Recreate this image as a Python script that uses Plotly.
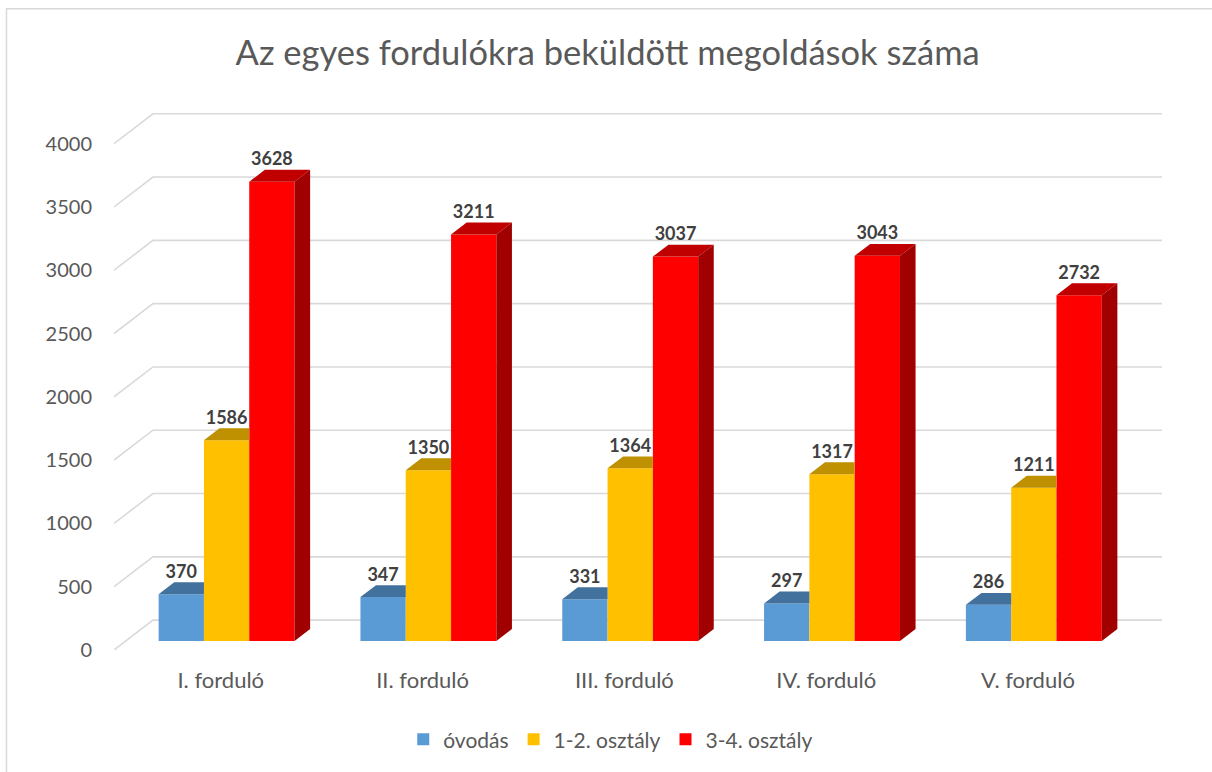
import plotly.graph_objects as go

# ---- data ----
categories = ["I. forduló", "II. forduló", "III. forduló", "IV. forduló", "V. forduló"]
series_names = ["óvodás", "1-2. osztály", "3-4. osztály"]
ovodas = [370, 347, 331, 297, 286]
osztaly_12 = [1586, 1350, 1364, 1317, 1211]
osztaly_34 = [3628, 3211, 3037, 3043, 2732]
y_ticks = [0, 500, 1000, 1500, 2000, 2500, 3000, 3500, 4000]

series_values = [ovodas, osztaly_12, osztaly_34]
front_colors = ["#5B9BD5", "#FFC000", "#FF0000"]
top_colors = ["#41719C", "#BF9000", "#C00000"]
side_colors = ["#2E5A85", "#9A7300", "#A00000"]

# ---- 3D-ish projection parameters (in data units) ----
DX = 0.193      # depth shift along x (category units)
DY = 236.0      # depth shift along y (value units)
D_FRONT, D_BACK = 0.3, 0.7
BW = 0.2245     # bar width (category units)
FONT = "Lato"
GRID = "#D9D9D9"

fig = go.Figure()

# gridlines on back wall + side wall (layout shapes below traces)
x_left = -0.5
x_right = len(categories) - 0.5
for v in y_ticks:
    path = (f"M {x_left},{v} L {x_left + DX},{v + DY} L {x_right + DX},{v + DY}")
    fig.add_shape(type="path", path=path, xref="x", yref="y",
                  line=dict(color=GRID, width=1.6), layer="below")

n_s = len(series_values)
for j, vals in enumerate(series_values):
    xs = [i + D_FRONT * DX + (j - (n_s - 1) / 2) * BW for i in range(len(categories))]
    # front faces
    fig.add_trace(go.Bar(
        x=xs, y=vals, base=D_FRONT * DY, width=BW, name=series_names[j],
        marker=dict(color=front_colors[j], line=dict(width=0)),
        hovertemplate="%{customdata}: %{y}<extra>" + series_names[j] + "</extra>",
        customdata=categories,
    ))
    # tops and sides
    tx, ty, sx, sy = [], [], [], []
    dd = D_BACK - D_FRONT
    for i, (xc, v) in enumerate(zip(xs, vals)):
        fl, fr = xc - BW / 2, xc + BW / 2
        y0 = v + D_FRONT * DY
        nxt = series_values[j + 1][i] if j + 1 < n_s else None
        if nxt is not None and nxt >= v:
            tx += [fl, fr, fr, fl + dd * DX, fl, None]
            ty += [y0, y0, y0 + dd * DY, y0 + dd * DY, y0, None]
        else:
            tx += [fl, fr, fr + dd * DX, fl + dd * DX, fl, None]
            ty += [y0, y0, y0 + dd * DY, y0 + dd * DY, y0, None]
            ybot = D_FRONT * DY if nxt is None else nxt + D_FRONT * DY
            sx += [fr, fr + dd * DX, fr + dd * DX, fr, fr, None]
            sy += [ybot, ybot + dd * DY, y0 + dd * DY, y0, ybot, None]
    fig.add_trace(go.Scatter(x=tx, y=ty, mode="lines", fill="toself",
                             fillcolor=top_colors[j], line=dict(width=0),
                             showlegend=False, hoverinfo="skip"))
    if sx:
        fig.add_trace(go.Scatter(x=sx, y=sy, mode="lines", fill="toself",
                                 fillcolor=side_colors[j], line=dict(width=0),
                                 showlegend=False, hoverinfo="skip"))
    # data labels
    fig.add_trace(go.Scatter(
        x=xs, y=[v + D_BACK * DY for v in vals], mode="text",
        text=[f"<b>{v}</b>" for v in vals], textposition="top center",
        textfont=dict(family=FONT, size=18, color="#404040"),
        showlegend=False, hoverinfo="skip"))

# chart border (left and top visible)
fig.add_shape(type="rect", xref="paper", yref="paper",
              x0=-0.1026, y0=-0.25, x1=1.06, y1=1.1917,
              line=dict(color="#D9D9D9", width=1.5), layer="below")

fig.update_layout(
    width=1212, height=772,
    margin=dict(l=114, r=50, t=112, b=120),
    paper_bgcolor="white", plot_bgcolor="white",
    barmode="overlay",
    font=dict(family=FONT, color="#595959"),
    title=dict(text="Az egyes fordulókra beküldött megoldások száma",
               x=0.471, xref="paper", xanchor="center",
               y=1 - 53 / 772, yref="container", yanchor="middle",
               font=dict(family=FONT, size=34.5, color="#595959")),
    xaxis=dict(range=[x_left, x_right + DX], showgrid=False, zeroline=False,
               showline=False, ticks="",
               tickvals=[i + 0.15 * DX for i in range(len(categories))],
               ticktext=categories, tickfont=dict(size=22, color="#595959"),
               ticklabelstandoff=15, fixedrange=True),
    yaxis=dict(range=[0, 4250], showgrid=False, zeroline=False, showline=False,
               ticks="", tickvals=y_ticks, tickfont=dict(size=20, color="#595959"),
               ticklabelstandoff=21, fixedrange=True),
    legend=dict(orientation="h", x=0.474, xanchor="center", y=-0.1667,
                yanchor="middle", font=dict(size=21, color="#595959"),
                traceorder="normal"),
    showlegend=True,
)

fig.write_html("out.html", config={"displayModeBar": False},
               post_script="document.body.style.margin='0';")
